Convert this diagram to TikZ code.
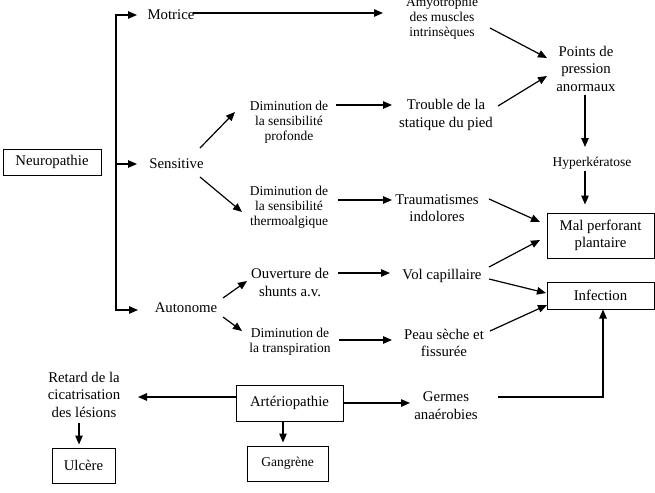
\documentclass[tikz,border=0pt]{standalone}
\usepackage{fontspec}
\setmainfont{Liberation Serif}
\usetikzlibrary{arrows.meta}
\newcommand\normtxt{\fontsize{14.8}{17.5}\selectfont}
\newcommand\smalltxt{\fontsize{13.5}{15}\selectfont}
\tikzset{
  txt/.style={align=center, font=\normtxt, inner sep=2pt},
  stxt/.style={align=center, font=\smalltxt, inner sep=2pt},
  box/.style={draw, rectangle, line width=1pt, align=center, inner sep=2pt},
  arr/.style={-{Triangle[length=9pt,width=7.5pt]}, line width=1.2pt}
}
\begin{document}
\begin{tikzpicture}[x=1pt, y=-1pt]
        \useasboundingbox (0,0) rectangle (655,492);

        \node[box, font=\normtxt, minimum width=98pt, minimum height=26pt](NEURO) at (52,162){Neuropathie};
        \coordinate (FORK) at (116,164);

        \node[txt](MOT) at (171,15){Motrice};
        \node[txt](SENS) at (176.5,164){Sensitive};
        \node[txt](AUTO) at (186,308){Autonome};

        \draw[arr] (FORK) |- ([shift={(-34,0)}]MOT.center);
        \draw[arr] (FORK) -- ([shift={(-39.5,0)}]SENS.center);
        \draw[arr] (FORK) |- ([shift={(-48,2)}]AUTO.center);

        \node[stxt](DIMP) at (289,122){Diminution de\\la sensibilit\'e\\profonde};
        \node[stxt](DIMT) at (289,207.5){Diminution de\\la sensibilit\'e\\thermoalgique};
        \node[txt](OUV) at (290,282.5){Ouverture de\\shunts a.v.};
        \node[stxt](DIMTR) at (290,341.5){Diminution de\\la transpiration};

        \draw[arr] ([shift={(23.5,-16)}]SENS.center) -- ([shift={(-54,-10)}]DIMP.center);
        \draw[arr] ([shift={(23.5,13)}]SENS.center) -- ([shift={(-47,4.5)}]DIMT.center);
        \draw[arr] ([shift={(37,-10)}]AUTO.center) -- ([shift={(-43,-1.5)}]OUV.center);
        \draw[arr] ([shift={(37,9)}]AUTO.center) -- ([shift={(-48,-10.5)}]DIMTR.center);

        \node[stxt](AMYO) at (442,18){Amyotrophie\\des muscles\\intrins\`eques};
        \node[txt](TROU) at (446,115){Trouble de la\\statique du pied};
        \node[txt](TRAU) at (437,208){Traumatismes\\indolores};
        \node[txt](VOL) at (442,276){Vol capillaire};
        \node[txt](PEAU) at (444,343){Peau s\`eche et\\fissur\'ee};
        \node[txt](GERM) at (446,405.5){Germes\\ana\'erobies};

        \draw[arr] ([shift={(22,-2)}]MOT.center) -- ([shift={(-59,-5)}]AMYO.center);
        \draw[arr] ([shift={(47,-17)}]DIMP.center) -- ([shift={(-54,-10)}]TROU.center);
        \draw[arr] ([shift={(49,-7.5)}]DIMT.center) -- ([shift={(-45,-8)}]TRAU.center);
        \draw[arr] ([shift={(48,-9.5)}]OUV.center) -- ([shift={(-52,-3)}]VOL.center);
        \draw[arr] ([shift={(49,-1.5)}]DIMTR.center) -- ([shift={(-52,-3)}]PEAU.center);

        \node[txt](PTS) at (586,68.5){Points de\\pression\\anormaux};
        \node[stxt](HYP) at (592,163){Hyperk\'eratose};
        \node[box, font=\normtxt, minimum width=107pt, minimum height=45pt](MAL) at (600.5,235.5){Mal perforant\\plantaire};
        \node[box, font=\normtxt, minimum width=107pt, minimum height=27pt](INF) at (600.5,295.5){Infection};

        \draw[arr] ([shift={(48,10)}]AMYO.center) -- ([shift={(-39,-10.5)}]PTS.center);
        \draw[arr] ([shift={(52,-9)}]TROU.center) -- ([shift={(-39,7.5)}]PTS.center);
        \draw[arr] ([shift={(-1,26.5)}]PTS.center) -- ([shift={(-7,-16)}]HYP.center);
        \draw[arr] ([shift={(-7,8)}]HYP.center) -- ([shift={(-15.5,-8)}]MAL.north);
        \draw[arr] ([shift={(52,-9)}]TRAU.center) -- ([shift={(-60.5,-13.5)}]MAL.center);
        \draw[arr] ([shift={(47,-9)}]VOL.center) -- ([shift={(-60.5,4.5)}]MAL.center);
        \draw[arr] ([shift={(47,3)}]VOL.center) -- ([shift={(-54.5,-2.5)}]INF.center);
        \draw[arr] ([shift={(46,-12)}]PEAU.center) -- ([shift={(-53.5,9.5)}]INF.center);
        \draw[arr] ([shift={(52,-8.5)}]GERM.center) -| ([shift={(2.5,0)}]INF.south);

        \node[box, font=\normtxt, minimum width=107pt, minimum height=36pt](ART) at (289.5,403){Art\'eriopathie};
        \node[box, font=\smalltxt, minimum width=81pt, minimum height=35pt](GANG) at (287.5,463.5){Gangr\`ene};
        \node[txt](RET) at (84,394.5){Retard de la\\cicatrisation\\des l\'esions};
        \node[box, font=\normtxt, minimum width=63pt, minimum height=35pt](ULC) at (83.5,465.5){Ulc\`ere};

        \draw[arr] (ART.east) -- ([shift={(-36,-2.5)}]GERM.center);
        \draw[arr] ([shift={(0,-6)}]ART.west) -- ([shift={(54,2.5)}]RET.center);
        \draw[arr] ([shift={(-6.5,0)}]ART.south) -- ([shift={(-4.5,-3)}]GANG.north);
        \draw[arr] ([shift={(-5,28.5)}]RET.center) -- ([shift={(-4.5,-3)}]ULC.north);
    \end{tikzpicture}
\end{document}
